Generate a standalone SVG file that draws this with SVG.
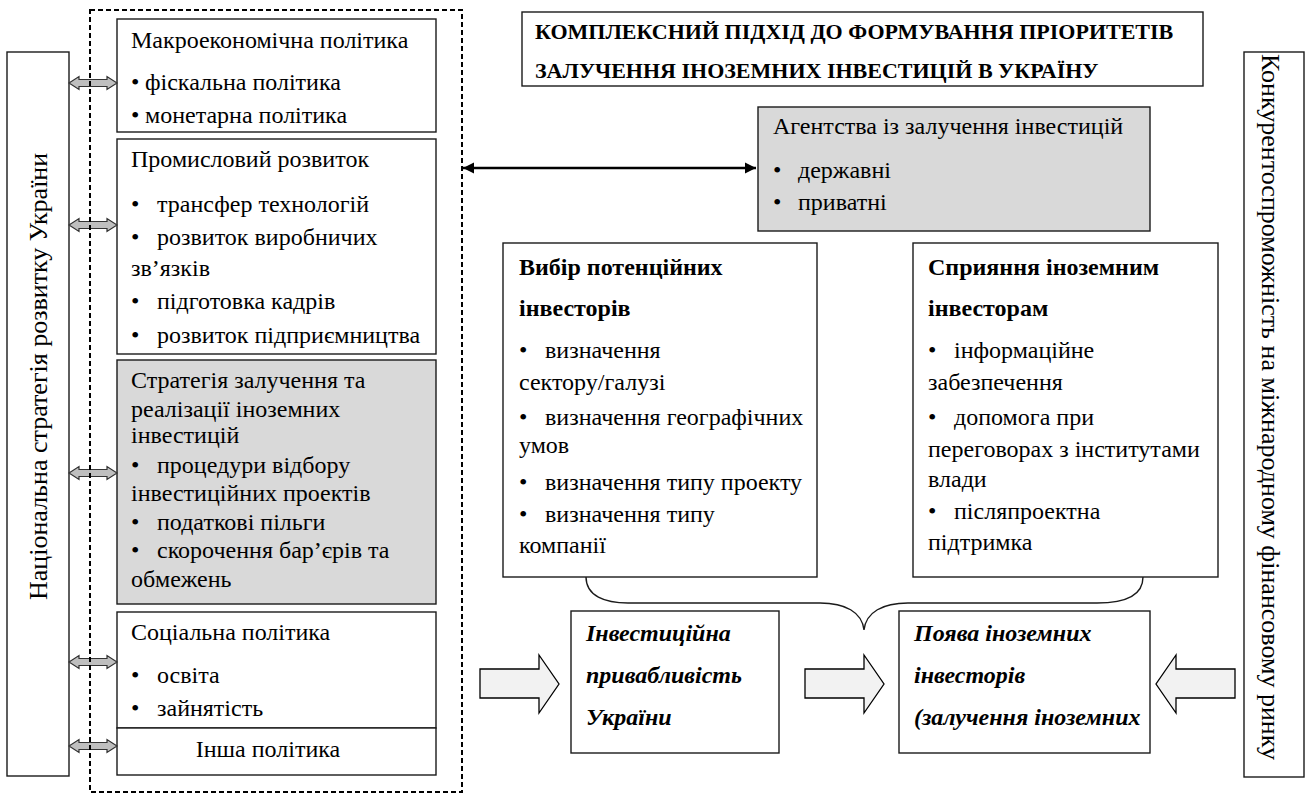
<svg xmlns="http://www.w3.org/2000/svg" width="1305" height="793" viewBox="0 0 1305 793">
<defs>
<path id="dblarrow" d="M0,0 L10,-6.5 L10,-3.5 L38,-3.5 L38,-6.5 L48,0 L38,6.5 L38,3.5 L10,3.5 L10,6.5 Z" fill="#bfbfbf" stroke="#333" stroke-width="1.2"/>
<path id="blockarrow" d="M0,-15 L59,-15 L59,-29 L79,0 L59,29 L59,14 L0,14 Z" fill="#f2f2f2" stroke="#000" stroke-width="1.3"/>
<marker id="ah" viewBox="0 0 10 10" refX="10" refY="5" markerWidth="4.4" markerHeight="4.8" markerUnits="strokeWidth" orient="auto-start-reverse">
<path d="M0,0 L10,5 L0,10 Z" fill="#000"/>
</marker>
</defs>

<g id="national-strategy">
<rect x="7" y="52" width="62" height="724" fill="#fff" stroke="#1a1a1a" stroke-width="1.4"/>
<text font-family="Liberation Serif" font-size="26" transform="translate(47,600) rotate(-90)">Національна стратегія розвитку України</text>
</g>

<g id="competitiveness">
<rect x="1244" y="52" width="60" height="725" fill="#fff" stroke="#1a1a1a" stroke-width="1.4"/>
<text font-family="Liberation Serif" font-size="26" transform="translate(1262,54) rotate(90)">Конкурентоспроможність на міжнародному фінансовому ринку</text>
</g>

<g id="title">
<rect x="522" y="12" width="681" height="74" fill="#fff" stroke="#1a1a1a" stroke-width="1.4"/>
<text font-family="Liberation Serif" font-size="22" font-weight="bold" x="535" y="39">КОМПЛЕКСНИЙ ПІДХІД ДО ФОРМУВАННЯ ПРІОРИТЕТІВ</text>
<text font-family="Liberation Serif" font-size="22" font-weight="bold" x="535" y="78">ЗАЛУЧЕННЯ ІНОЗЕМНИХ ІНВЕСТИЦІЙ В УКРАЇНУ</text>
</g>

<g id="macro">
<rect x="117" y="19" width="319" height="113" fill="#fff" stroke="#1a1a1a" stroke-width="1.4"/>
<text font-family="Liberation Serif" font-size="24" x="131" y="48">Макроекономічна політика</text>
<text font-family="Liberation Serif" font-size="24" y="90"><tspan x="131">•</tspan><tspan x="145">фіскальна політика</tspan></text>
<text font-family="Liberation Serif" font-size="24" y="123"><tspan x="131">•</tspan><tspan x="145">монетарна політика</tspan></text>
</g>

<g id="industrial">
<rect x="117" y="139" width="319" height="215" fill="#fff" stroke="#1a1a1a" stroke-width="1.4"/>
<text font-family="Liberation Serif" font-size="24" x="131" y="167">Промисловий розвиток</text>
<text font-family="Liberation Serif" font-size="24" y="212"><tspan x="131">•</tspan><tspan x="157">трансфер технологій</tspan></text>
<text font-family="Liberation Serif" font-size="24" y="245"><tspan x="131">•</tspan><tspan x="157">розвиток виробничих</tspan></text>
<text font-family="Liberation Serif" font-size="24" x="131" y="276">зв’язків</text>
<text font-family="Liberation Serif" font-size="24" y="309"><tspan x="131">•</tspan><tspan x="157">підготовка кадрів</tspan></text>
<text font-family="Liberation Serif" font-size="24" y="343"><tspan x="131">•</tspan><tspan x="157">розвиток підприємництва</tspan></text>
</g>

<g id="strategy">
<rect x="117" y="360" width="319" height="244" fill="#d9d9d9" stroke="#1a1a1a" stroke-width="1.4"/>
<text font-family="Liberation Serif" font-size="24" x="131" y="388">Стратегія залучення та</text>
<text font-family="Liberation Serif" font-size="24" x="131" y="417">реалізації іноземних</text>
<text font-family="Liberation Serif" font-size="24" x="131" y="443">інвестицій</text>
<text font-family="Liberation Serif" font-size="24" y="473"><tspan x="131">•</tspan><tspan x="157">процедури відбору</tspan></text>
<text font-family="Liberation Serif" font-size="24" x="131" y="501">інвестиційних проектів</text>
<text font-family="Liberation Serif" font-size="24" y="530"><tspan x="131">•</tspan><tspan x="157">податкові пільги</tspan></text>
<text font-family="Liberation Serif" font-size="24" y="558"><tspan x="131">•</tspan><tspan x="157">скорочення бар’єрів та</tspan></text>
<text font-family="Liberation Serif" font-size="24" x="131" y="587">обмежень</text>
</g>

<g id="social">
<rect x="117" y="612" width="319" height="116" fill="#fff" stroke="#1a1a1a" stroke-width="1.4"/>
<text font-family="Liberation Serif" font-size="24" x="131" y="640">Соціальна політика</text>
<text font-family="Liberation Serif" font-size="24" y="683"><tspan x="131">•</tspan><tspan x="157">освіта</tspan></text>
<text font-family="Liberation Serif" font-size="24" y="716"><tspan x="131">•</tspan><tspan x="157">зайнятість</tspan></text>
</g>

<g id="other">
<rect x="117" y="728" width="319" height="47" fill="#fff" stroke="#1a1a1a" stroke-width="1.4"/>
<text font-family="Liberation Serif" font-size="24" x="268" y="757" text-anchor="middle">Інша політика</text>
</g>

<g id="agencies">
<rect x="758" y="107" width="392" height="124" fill="#d9d9d9" stroke="#1a1a1a" stroke-width="1.4"/>
<text font-family="Liberation Serif" font-size="24" x="773" y="134">Агентства із залучення інвестицій</text>
<text font-family="Liberation Serif" font-size="24" y="178"><tspan x="773">•</tspan><tspan x="798">державні</tspan></text>
<text font-family="Liberation Serif" font-size="24" y="210"><tspan x="773">•</tspan><tspan x="798">приватні</tspan></text>
</g>

<g id="selection">
<rect x="503" y="243" width="314" height="334" fill="#fff" stroke="#1a1a1a" stroke-width="1.4"/>
<text font-family="Liberation Serif" font-size="24" font-weight="bold" x="519" y="275">Вибір потенційних</text>
<text font-family="Liberation Serif" font-size="24" font-weight="bold" x="519" y="316">інвесторів</text>
<text font-family="Liberation Serif" font-size="24" y="358"><tspan x="519">•</tspan><tspan x="545">визначення</tspan></text>
<text font-family="Liberation Serif" font-size="24" x="519" y="390">сектору/галузі</text>
<text font-family="Liberation Serif" font-size="24" y="425"><tspan x="519">•</tspan><tspan x="545">визначення географічних</tspan></text>
<text font-family="Liberation Serif" font-size="24" x="519" y="453">умов</text>
<text font-family="Liberation Serif" font-size="24" y="490"><tspan x="519">•</tspan><tspan x="545">визначення типу проекту</tspan></text>
<text font-family="Liberation Serif" font-size="24" y="522"><tspan x="519">•</tspan><tspan x="545">визначення типу</tspan></text>
<text font-family="Liberation Serif" font-size="24" x="519" y="553">компанії</text>
</g>

<g id="assistance">
<rect x="913" y="243" width="305" height="334" fill="#fff" stroke="#1a1a1a" stroke-width="1.4"/>
<text font-family="Liberation Serif" font-size="24" font-weight="bold" x="928" y="275">Сприяння іноземним</text>
<text font-family="Liberation Serif" font-size="24" font-weight="bold" x="928" y="316">інвесторам</text>
<text font-family="Liberation Serif" font-size="24" y="358"><tspan x="928">•</tspan><tspan x="954">інформаційне</tspan></text>
<text font-family="Liberation Serif" font-size="24" x="928" y="390">забезпечення</text>
<text font-family="Liberation Serif" font-size="24" y="425"><tspan x="928">•</tspan><tspan x="954">допомога при</tspan></text>
<text font-family="Liberation Serif" font-size="24" x="928" y="457">переговорах з інститутами</text>
<text font-family="Liberation Serif" font-size="24" x="928" y="487">влади</text>
<text font-family="Liberation Serif" font-size="24" y="519"><tspan x="928">•</tspan><tspan x="954">післяпроектна</tspan></text>
<text font-family="Liberation Serif" font-size="24" x="928" y="550">підтримка</text>
</g>

<g id="attractiveness">
<rect x="571" y="611" width="208" height="142" fill="#fff" stroke="#1a1a1a" stroke-width="1.4"/>
<text font-family="Liberation Serif" font-size="24" font-weight="bold" font-style="italic" x="586" y="641">Інвестиційна</text>
<text font-family="Liberation Serif" font-size="24" font-weight="bold" font-style="italic" x="586" y="683">привабливість</text>
<text font-family="Liberation Serif" font-size="24" font-weight="bold" font-style="italic" x="586" y="725">України</text>
</g>

<g id="foreign-investors">
<rect x="899" y="611" width="251" height="142" fill="#fff" stroke="#1a1a1a" stroke-width="1.4"/>
<text font-family="Liberation Serif" font-size="24" font-weight="bold" font-style="italic" x="914" y="641">Поява іноземних</text>
<text font-family="Liberation Serif" font-size="24" font-weight="bold" font-style="italic" x="914" y="683">інвесторів</text>
<text font-family="Liberation Serif" font-size="24" font-weight="bold" font-style="italic" x="914" y="725">(залучення іноземних</text>
</g>

<g id="connectors">
<use href="#dblarrow" transform="translate(69,83)"/>
<use href="#dblarrow" transform="translate(69,225)"/>
<use href="#dblarrow" transform="translate(69,473)"/>
<use href="#dblarrow" transform="translate(69,662)"/>
<use href="#dblarrow" transform="translate(69,746)"/>
<line x1="463" y1="168" x2="756" y2="168" stroke="#000" stroke-width="2.5" marker-start="url(#ah)" marker-end="url(#ah)"/>
<path d="M586,577 C586,596 605,603 628,603 L820,603 C845,603 862,612 864,630 C866,612 883,603 908,603 L1097,603 C1125,603 1143,596 1143,577" fill="none" stroke="#1a1a1a" stroke-width="1.4"/>
<use href="#blockarrow" transform="translate(480,684)"/>
<use href="#blockarrow" transform="translate(805,684)"/>
<use href="#blockarrow" transform="translate(1235,684) scale(-1,1)"/>
</g>

<g id="policy-frame">
<rect x="90" y="10" width="372" height="782" fill="none" stroke="#000" stroke-width="2" stroke-dasharray="5,3"/>
</g>
</svg>
